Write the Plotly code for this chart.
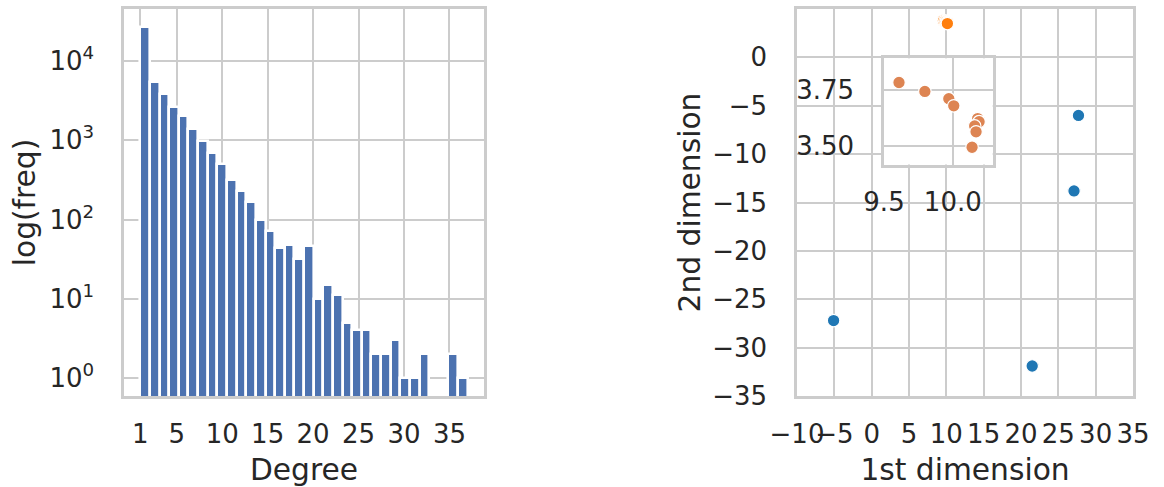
import numpy as np
import plotly.graph_objects as go

# ---- degree distribution: 34 equal-width bins over degree 1..37 ----
deg_min, deg_max, n_bins = 1, 37, 34
bin_counts = [27000, 5480, 3860, 2630, 2020, 1400, 977, 690, 507, 311,
              226, 167, 99, 71, 44, 47, 32, 46, 10, 15,
              11, 5, 4, 4, 2, 2, 3, 1, 1, 2,
              0, 0, 2, 1]
deg_ticks = [1, 5, 10, 15, 20, 25, 30, 35]
freq_ticks = [1, 10, 100, 1000, 10000]
freq_tick_text = ["10<sup>0</sup>", "10<sup>1</sup>", "10<sup>2</sup>",
                  "10<sup>3</sup>", "10<sup>4</sup>"]

# ---- 2-D embedding ----
blue_x = [27.7, 27.1, -5.1, 21.5]
blue_y = [-6.0, -13.8, -27.2, -31.9]
orange_x = [9.609, 9.797, 9.971, 10.007, 10.181, 10.191, 10.159, 10.169, 10.140]
orange_y = [3.784, 3.744, 3.712, 3.680, 3.623, 3.609, 3.590, 3.564, 3.495]
emb_xticks = [-10, -5, 0, 5, 10, 15, 20, 25, 30, 35]
emb_yticks = [-35, -30, -25, -20, -15, -10, -5, 0]
inset_xticks = [9.5, 10.0]
inset_xtext = ["9.5", "10.0"]
inset_yticks = [3.5, 3.75]
inset_ytext = ["3.50", "3.75"]

W, H = 1164, 487
TEXT = "#262626"
GRID = "#cccccc"
FONT = "DejaVu Sans"
TICK_SIZE = 26
LABEL_SIZE = 29.7


def px_x(a, b):
    return [a / W, b / W]


def px_y(top, bottom):
    return [1 - bottom / H, 1 - top / H]


edges = np.linspace(deg_min, deg_max, n_bins + 1)
centers = (edges[:-1] + edges[1:]) / 2
bin_width = edges[1] - edges[0]
bar_heights = [c if c > 0 else None for c in bin_counts]

fig = go.Figure()

fig.add_trace(go.Bar(
    x=centers, y=bar_heights, width=bin_width,
    marker=dict(color="#4c72b0", line=dict(color="white", width=2.6)),
    xaxis="x", yaxis="y", showlegend=False,
))

marker_line = dict(color="white", width=1.2)
fig.add_trace(go.Scatter(
    x=blue_x, y=blue_y, mode="markers",
    marker=dict(color="#1f77b4", size=12.5, line=marker_line),
    xaxis="x2", yaxis="y2", showlegend=False,
))
fig.add_trace(go.Scatter(
    x=orange_x, y=orange_y, mode="markers",
    marker=dict(color="#ff7f0e", size=12.5, line=marker_line),
    xaxis="x2", yaxis="y2", showlegend=False,
))
fig.add_trace(go.Scatter(
    x=orange_x, y=orange_y, mode="markers",
    marker=dict(color="#dd8452", size=12.5, line=marker_line),
    xaxis="x3", yaxis="y3", showlegend=False,
))

axis_style = dict(
    showgrid=True, gridcolor=GRID, gridwidth=2,
    showline=True, linecolor=GRID, linewidth=2.5, mirror=True,
    zeroline=False, ticks="", tickangle=0, automargin=False,
    tickfont=dict(family=FONT, size=TICK_SIZE, color=TEXT),
)
x_style = dict(axis_style, ticklabelstandoff=13)
y_style = dict(axis_style, ticklabelstandoff=22)
title_font = dict(family=FONT, size=LABEL_SIZE, color=TEXT)

fig.update_layout(
    width=W, height=H,
    margin=dict(l=0, r=0, t=0, b=0),
    paper_bgcolor="white", plot_bgcolor="white",
    bargap=0,
    xaxis=dict(domain=px_x(124, 484), range=[-0.8, 38.8], tickvals=deg_ticks,
               title=dict(text="Degree", font=title_font, standoff=23),
               anchor="y", **x_style),
    yaxis=dict(domain=px_y(9, 396), type="log", range=[-0.227, 4.656],
               tickvals=freq_ticks, ticktext=freq_tick_text,
               title=dict(text="log(freq)", font=title_font, standoff=5),
               anchor="x", **y_style),
    xaxis2=dict(domain=px_x(797, 1133), range=[-10, 35], tickvals=emb_xticks,
                title=dict(text="1st dimension", font=title_font, standoff=23),
                anchor="y2", **x_style),
    yaxis2=dict(domain=px_y(9, 396), range=[-35, 5], tickvals=emb_yticks,
                title=dict(text="2nd dimension", font=title_font, standoff=3),
                anchor="x2", **y_style),
    xaxis3=dict(domain=px_x(884, 992.7), range=[9.5, 10.29],
                tickvals=inset_xticks, ticktext=inset_xtext,
                anchor="y3", **x_style),
    yaxis3=dict(domain=px_y(58.3, 164.5), range=[3.418, 3.892],
                tickvals=inset_yticks, ticktext=inset_ytext,
                anchor="x3", **y_style),
)

fig.write_html("out.html")
